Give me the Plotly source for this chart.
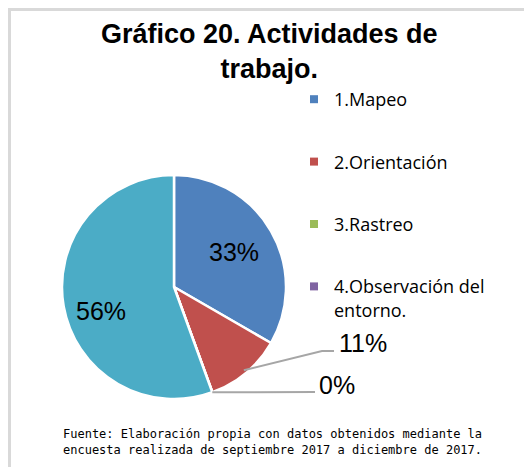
import math
import plotly.graph_objects as go

# Datos
labels = ["1.Mapeo", "2.Orientación", "3.Rastreo", "4.Observación del entorno.", "5.Otras"]
legend_names = ["1.Mapeo", "2.Orientación", "3.Rastreo", "4.Observación del<br>entorno."]
counts = [3, 1, 0, 0, 5]
colors = ["#4F81BD", "#C0504D", "#9BBB59", "#8064A2", "#4BACC6"]

title = "<b>Gráfico 20. Actividades de<br>trabajo.</b>"
source = ("Fuente: Elaboración propia con datos obtenidos mediante la<br>"
          "encuesta realizada de septiembre 2017 a diciembre de 2017.")

# page has an 8px body margin, so the figure is a bit smaller than the window
OFF = 8
W, H = 532 - OFF, 467 - OFF


def pp(x, y):
    # page pixel -> paper coords
    return (x - OFF) / W, 1 - (y - OFF) / H


# pie placement (page pixels)
pie_left, pie_right, pie_top, pie_bottom = 62, 286, 175, 399
cx = (pie_left + pie_right) / 2
cy = (pie_top + pie_bottom) / 2
R = (pie_right - pie_left) / 2


def point_at(angle_deg, frac):
    a = math.radians(angle_deg)
    return cx + frac * R * math.sin(a), cy - frac * R * math.cos(a)


total = sum(counts)
mids = []
cum = 0
for c in counts:
    mids.append((cum + c / 2) / total * 360)
    cum += c
pcts = [round(100 * c / total) for c in counts]

x0, y1 = pp(pie_left, pie_top)
x1, y0 = pp(pie_right, pie_bottom)

fig = go.Figure()
fig.add_trace(go.Pie(
    labels=labels, values=counts, sort=False, direction="clockwise", rotation=0,
    marker=dict(colors=colors, line=dict(color="white", width=2.5)),
    textinfo="none", showlegend=False, hoverinfo="label+percent",
    domain=dict(x=[x0, x1], y=[y0, y1]),
))

# legend via dummy traces (only the first four categories are listed)
for i, name in enumerate(legend_names):
    fig.add_trace(go.Scatter(
        x=[None], y=[None], mode="markers", name=name, legendgroup=str(i),
        marker=dict(symbol="square", size=8, color=colors[i]),
    ))

annotations = []
shapes = []
lab_font = dict(family="Liberation Sans, Arial", size=25, color="black")

# inside labels
for i, frac, ysh in ((0, 0.62, 0), (4, 0.66, -11)):
    x, y = point_at(mids[i], frac)
    xp, yp = pp(x, y)
    annotations.append(dict(x=xp, y=yp, xref="paper", yref="paper", showarrow=False,
                            xanchor="center", yanchor="middle", yshift=ysh,
                            text=f"{pcts[i]}%", font=lab_font))

# outside labels with leader lines
outside = [
    (1, 0.97, (322, 351), (334, 351), (337, 343)),
    (2, 1.0, (315, 392), (315, 392), (317, 385)),
]
for i, frac, elbow, end, txt in outside:
    sx, sy = point_at(mids[i], frac)
    pts = [pp(sx, sy), pp(*elbow), pp(*end)]
    path = "M {} {} L {} {} L {} {}".format(*[v for p in pts for v in p])
    shapes.append(dict(type="path", xref="paper", yref="paper", path=path,
                       line=dict(color="#A6A6A6", width=2)))
    tx, ty = pp(*txt)
    annotations.append(dict(x=tx, y=ty, xref="paper", yref="paper", showarrow=False,
                            xanchor="left", yanchor="middle", text=f"{pcts[i]}%", font=lab_font))

# title
tx, ty = pp(269, 51)
annotations.append(dict(x=tx, y=ty, xref="paper", yref="paper", showarrow=False,
                        xanchor="center", yanchor="middle", text=title, align="center",
                        font=dict(family="Liberation Sans, Arial", size=27, color="black")))
# source note
tx, ty = pp(61, 442)
annotations.append(dict(x=tx, y=ty, xref="paper", yref="paper", showarrow=False,
                        xanchor="left", yanchor="middle", text=source, align="left",
                        font=dict(family="DejaVu Sans Mono", size=12, color="black")))

# chart frame (only top and left edges fall inside the window)
shapes.append(dict(type="line", xref="paper", yref="paper", x0=0, x1=1.0, y0=1 - 1.5 / H, y1=1 - 1.5 / H,
                   line=dict(color="#D9D9D9", width=3)))
shapes.append(dict(type="line", xref="paper", yref="paper", x0=1.5 / W, x1=1.5 / W, y0=0, y1=1,
                   line=dict(color="#D9D9D9", width=3)))

lx, ly = pp(294, 81)
fig.update_layout(
    width=W, height=H, margin=dict(l=0, r=0, t=0, b=0),
    paper_bgcolor="white", plot_bgcolor="white",
    xaxis=dict(visible=False), yaxis=dict(visible=False),
    legend=dict(x=lx, y=ly, xanchor="left", yanchor="top",
                font=dict(family="Open Sans", size=18, color="black"),
                tracegroupgap=36, valign="top", bgcolor="rgba(0,0,0,0)"),
    annotations=annotations, shapes=shapes,
)

fig.write_html("out.html")
